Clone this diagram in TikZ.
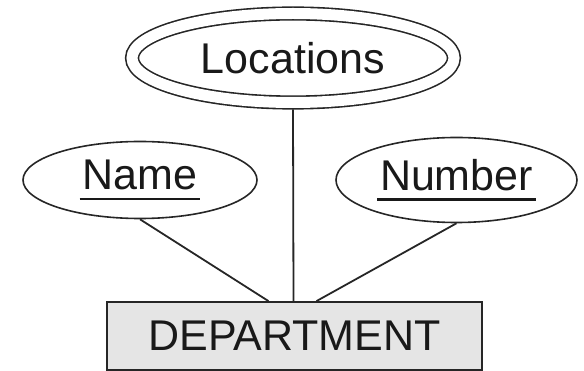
\documentclass[tikz,border=0pt]{standalone}
\usepackage{fontspec}
\setmainfont{Liberation Sans}
\usetikzlibrary{shapes.geometric}

\newcommand{\keyattr}[1]{\setbox0\hbox{#1}\rlap{\hspace{-3pt}\rule[-10pt]{\dimexpr\wd0+6pt\relax}{2.2pt}}\box0}

\begin{document}
\begin{tikzpicture}[x=1pt, y=-1pt, font=\fontsize{43}{48}\selectfont, text=black!90,
    attr/.style={ellipse, draw=black!85, line width=1.6pt, inner sep=0pt},
    multiattr/.style={attr, double, double distance=11pt, outer sep=7pt},
    entity/.style={rectangle, draw=black!85, line width=1.8pt, fill=black!10, inner sep=0pt}]
  \useasboundingbox (0,0) rectangle (584,371);
  \node[multiattr, minimum width=322pt, minimum height=89pt] (loc) at (293,58) {Locations};
  \node[attr, minimum width=234pt, minimum height=77pt] (name) at (140,180) {\keyattr{Name}};
  \node[attr, minimum width=241pt, minimum height=85pt] (number) at (456.5,180) {\keyattr{Number}};
  \node[entity, minimum width=375pt, minimum height=68pt] (dept) at (294.5,336) {DEPARTMENT};
  \path[draw=black!85, line width=1.8pt]
    (name.south) edge ([xshift=-26pt]dept.north)
    (loc.south) edge ([xshift=-1pt]dept.north)
    (number.south) edge ([xshift=22pt]dept.north);
\end{tikzpicture}
\end{document}
